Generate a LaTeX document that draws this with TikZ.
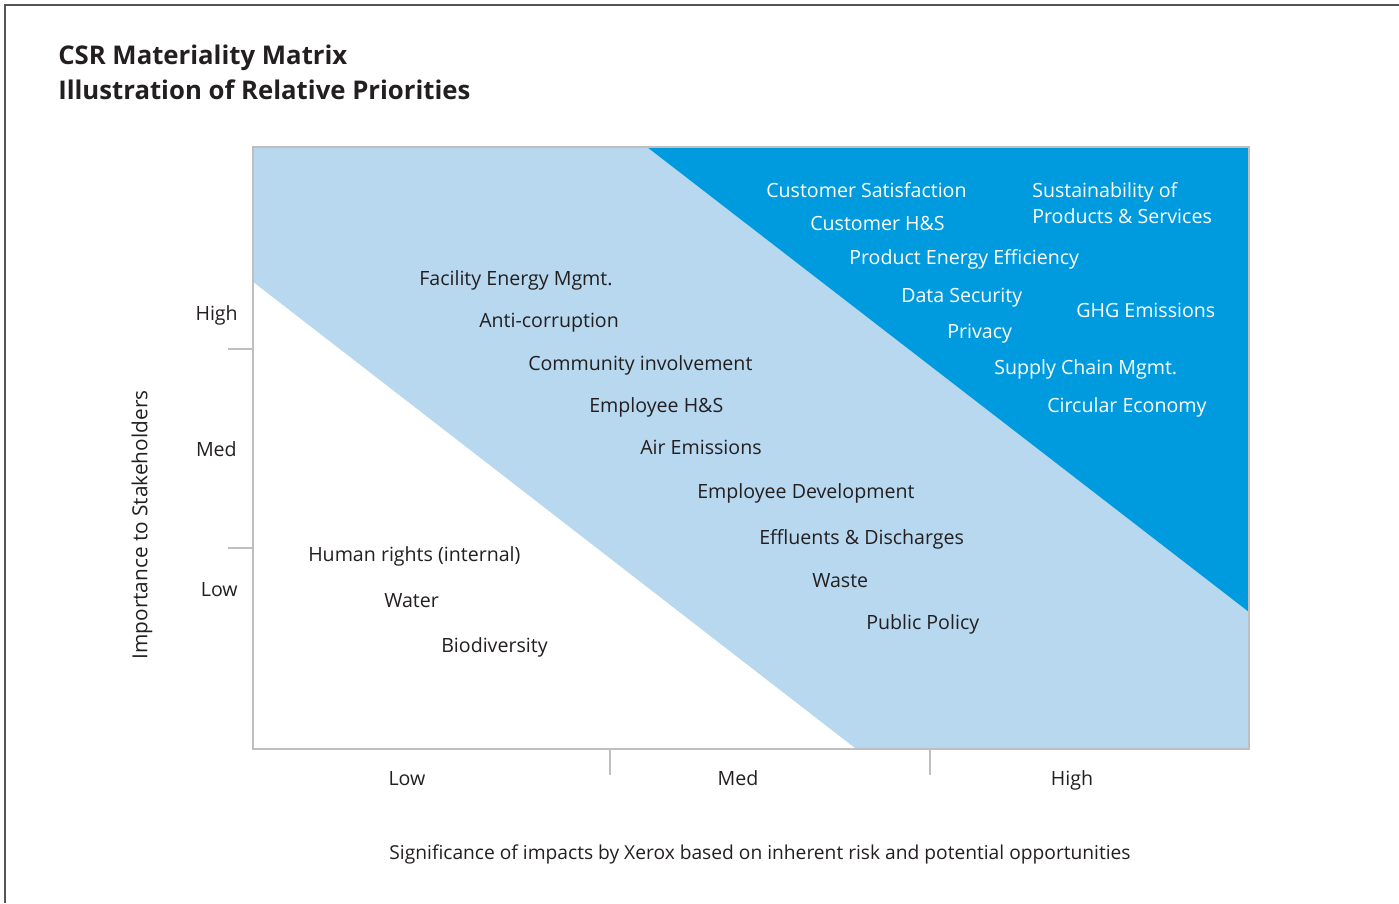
\documentclass[tikz,border=0pt]{standalone}
\usepackage{fontspec}
\setmainfont{Open Sans}
\definecolor{lightblue}{HTML}{B8D8F0}
\definecolor{darkblue}{HTML}{009BDE}
\definecolor{txt}{HTML}{231F20}
\definecolor{axisgray}{HTML}{BFBFBF}
\definecolor{framegray}{HTML}{555555}
\begin{document}
\begin{tikzpicture}[x=0.75pt,y=-0.75pt,
  lbl/.style={anchor=base west,inner sep=0pt,text=txt,font=\fontsize{14.7}{17}\selectfont},
  wlbl/.style={lbl,text=white},
  axl/.style={anchor=base,inner sep=0pt,text=txt,font=\fontsize{14.7}{17}\selectfont},
  ttl/.style={anchor=base west,inner sep=0pt,text=txt,font=\fontsize{19.3}{23}\selectfont\bfseries},
  tick/.style={draw=axisgray,line width=1pt}]
\useasboundingbox (0,0) rectangle (1399,903);
\draw[framegray,line width=1.5pt] (5,903) -- (5,5) -- (1399,5);
% regions
\fill[lightblue] (253,147) rectangle (1249,749);
\fill[white] (253,282) -- (856,749) -- (253,749) -- cycle;
\fill[darkblue] (647,147) -- (1249,147) -- (1249,612) -- cycle;
\draw[axisgray,line width=1pt] (253,147) rectangle (1249,749);
% ticks
\draw[tick] (228,349) -- (253,349);
\draw[tick] (228,548) -- (253,548);
\draw[tick] (610,749) -- (610,775);
\draw[tick] (930,749) -- (930,775);
% titles
\node[ttl] (t1) at (58,64) {CSR Materiality Matrix};
\node[ttl] (t2) at (58,99) {Illustration of Relative Priorities};
% axis labels
\node[axl,anchor=base east] (yh) at (238,320) {High};
\node[axl,anchor=base east] (ym) at (237,456) {Med};
\node[axl,anchor=base east] (yl) at (238,596) {Low};
\node[axl] (xl) at (407,785) {Low};
\node[axl] (xm) at (738,785) {Med};
\node[axl] (xh) at (1072,785) {High};
\node[axl,anchor=center,rotate=90,font=\fontsize{15.6}{18}\selectfont] (ytitle) at (142,525) {Importance to Stakeholders};
\node[axl,font=\fontsize{14.4}{17}\selectfont] (xtitle) at (760,859) {Significance of impacts by Xerox based on inherent risk and potential opportunities};
% dark region
\node[wlbl] (a1) at (766,197) {Customer Satisfaction};
\node[wlbl] (a2) at (810,230) {Customer H\&S};
\node[wlbl] (a3) at (1032,197) {Sustainability of};
\node[wlbl] (a4) at (1032,223) {Products \& Services};
\node[wlbl] (a5) at (849,264) {Product Energy Efficiency};
\node[wlbl] (a6) at (901,302) {Data Security};
\node[wlbl] (a7) at (1076,317) {GHG Emissions};
\node[wlbl] (a8) at (947,338) {Privacy};
\node[wlbl] (a9) at (994,374) {Supply Chain Mgmt.};
\node[wlbl] (a10) at (1047,412) {Circular Economy};
% light region
\node[lbl] (b1) at (419,285) {Facility Energy Mgmt.};
\node[lbl] (b2) at (479,327) {Anti-corruption};
\node[lbl] (b3) at (528,370) {Community involvement};
\node[lbl] (b4) at (589,412) {Employee H\&S};
\node[lbl] (b5) at (640,454) {Air Emissions};
\node[lbl] (b6) at (697,498) {Employee Development};
\node[lbl] (b7) at (759,544) {Effluents \& Discharges};
\node[lbl] (b8) at (812,587) {Waste};
\node[lbl] (b9) at (866,629) {Public Policy};
% white region
\node[lbl] (c1) at (308,561) {Human rights (internal)};
\node[lbl] (c2) at (384,607) {Water};
\node[lbl] (c3) at (441,652) {Biodiversity};
\end{tikzpicture}
\end{document}
